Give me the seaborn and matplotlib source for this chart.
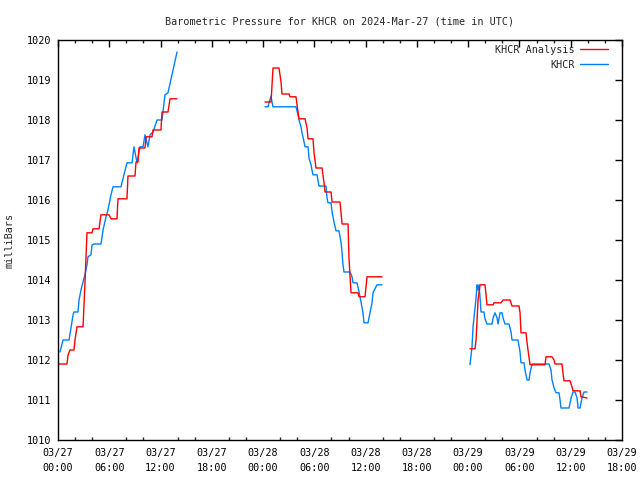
import numpy as np
import pandas as pd
import seaborn as sns
import matplotlib
matplotlib.use("Agg")
import matplotlib.pyplot as plt
import matplotlib.dates as mdates
from matplotlib.lines import Line2D

# ---- data: hours since 2024-03-27 00:00 UTC, pressure in mb ----
red_h1 = [0.0, 1.05, 1.17, 1.40, 1.87, 1.99, 2.22, 2.93, 3.16, 3.39, 3.98, 4.10, 4.80, 5.03,
          5.97, 6.20, 6.90, 7.02, 8.07, 8.19, 9.01, 9.13, 9.36, 9.48, 10.18, 10.30, 11.0,
          11.12, 12.05, 12.17, 12.87, 13.11, 13.93]
red_p1 = [1011.9, 1011.9, 1012.12, 1012.25, 1012.25, 1012.5, 1012.83, 1012.83, 1013.95, 1015.18,
          1015.18, 1015.28, 1015.28, 1015.63, 1015.63, 1015.53, 1015.53, 1016.03, 1016.03, 1016.6,
          1016.6, 1016.95, 1016.95, 1017.3, 1017.3, 1017.58, 1017.58, 1017.75, 1017.75, 1018.2,
          1018.2, 1018.53, 1018.53]
red_h2 = [24.22, 24.93, 25.16, 25.86, 26.10, 26.21, 27.03, 27.15, 27.85, 28.09, 28.20, 28.91,
          29.14, 29.26, 29.84, 29.96, 30.19, 30.90, 31.13, 31.25, 31.95, 32.07, 33.0, 33.12,
          33.24, 33.94, 34.05, 34.29, 35.11, 35.23, 35.93, 36.16, 37.92]
red_p2 = [1018.45, 1018.45, 1019.3, 1019.3, 1018.95, 1018.65, 1018.65, 1018.58, 1018.58, 1018.2,
          1018.03, 1018.03, 1017.8, 1017.53, 1017.53, 1017.18, 1016.8, 1016.8, 1016.43, 1016.2,
          1016.2, 1015.95, 1015.95, 1015.68, 1015.4, 1015.4, 1014.55, 1013.68, 1013.68, 1013.58,
          1013.58, 1014.08, 1014.08]
red_h3 = [48.21, 48.80, 48.92, 49.04, 49.15, 49.39, 49.97, 50.09, 50.20, 50.91, 51.02, 51.84,
          52.08, 52.90, 53.01, 53.13, 53.95, 54.07, 54.18, 54.77, 54.89, 55.0, 55.24, 56.99,
          57.11, 57.81, 58.05, 58.16, 58.98, 59.09, 59.21, 59.92, 60.15, 60.27, 61.09, 61.21, 61.91]
red_p3 = [1012.28, 1012.28, 1012.5, 1013.0, 1013.5, 1013.88, 1013.88, 1013.63, 1013.38, 1013.38,
          1013.43, 1013.43, 1013.5, 1013.5, 1013.43, 1013.35, 1013.35, 1013.18, 1012.68, 1012.68,
          1012.43, 1012.25, 1011.88, 1011.88, 1012.08, 1012.08, 1012.0, 1011.9, 1011.9, 1011.68,
          1011.48, 1011.48, 1011.33, 1011.23, 1011.23, 1011.08, 1011.05]

blue_h1 = [0.23, 0.59, 1.29, 1.52, 1.76, 1.87, 2.34, 2.46, 2.69, 2.93, 3.16, 3.39, 3.51, 3.86,
           3.98, 4.21, 5.03, 5.27, 5.62, 5.85, 6.20, 6.44, 7.37, 7.72, 8.07, 8.66, 8.89, 9.25,
           9.60, 9.95, 10.18, 10.53, 10.77, 11.12, 11.59, 12.17, 12.52, 12.87, 13.93]
blue_p1 = [1012.2, 1012.5, 1012.5, 1012.8, 1013.13, 1013.2, 1013.2, 1013.5, 1013.75, 1013.95,
           1014.13, 1014.38, 1014.58, 1014.63, 1014.88, 1014.9, 1014.9, 1015.25, 1015.58, 1015.75,
           1016.13, 1016.33, 1016.33, 1016.63, 1016.93, 1016.93, 1017.33, 1016.93, 1017.33,
           1017.33, 1017.63, 1017.33, 1017.63, 1017.7, 1018.0, 1018.0, 1018.63, 1018.68, 1019.7]
blue_h2 = [24.22, 24.58, 24.69, 24.93, 25.04, 25.16, 27.85, 28.09, 28.20, 28.44, 28.55, 28.67,
           28.91, 29.26, 29.37, 29.61, 29.72, 29.84, 30.31, 30.54, 31.36, 31.48, 31.60, 31.95,
           32.07, 32.30, 32.53, 32.88, 33.12, 33.24, 33.35, 33.47, 34.17, 34.41, 34.52, 34.99,
           35.23, 35.46, 35.69, 35.81, 36.28, 36.51, 36.75, 36.86, 37.21, 37.33, 37.92]
blue_p2 = [1018.33, 1018.33, 1018.43, 1018.6, 1018.45, 1018.33, 1018.33, 1018.13, 1018.0, 1017.83,
           1017.68, 1017.58, 1017.33, 1017.33, 1017.05, 1016.88, 1016.75, 1016.63, 1016.63,
           1016.35, 1016.35, 1016.05, 1015.93, 1015.93, 1015.7, 1015.45, 1015.23, 1015.23,
           1014.95, 1014.68, 1014.38, 1014.2, 1014.2, 1014.08, 1013.93, 1013.93, 1013.7, 1013.45,
           1013.18, 1012.93, 1012.93, 1013.18, 1013.43, 1013.68, 1013.83, 1013.88, 1013.88]
blue_h3 = [48.21, 48.45, 48.57, 48.80, 48.92, 49.04, 49.15, 49.27, 49.39, 49.50, 49.85, 49.97,
           50.20, 50.79, 50.91, 51.14, 51.38, 51.49, 51.73, 51.96, 52.08, 52.31, 52.78, 53.01,
           53.13, 53.83, 54.07, 54.18, 54.53, 54.65, 54.89, 55.12, 55.24, 55.47, 57.46, 57.69,
           57.81, 58.05, 58.28, 58.63, 58.75, 58.86, 59.80, 60.04, 60.27, 60.50, 60.74, 60.86,
           61.09, 61.32, 61.56, 61.91]
blue_p3 = [1011.88, 1012.33, 1012.83, 1013.3, 1013.55, 1013.88, 1013.75, 1013.88, 1013.55, 1013.2,
           1013.2, 1013.03, 1012.9, 1012.9, 1013.05, 1013.18, 1013.05, 1012.9, 1013.18, 1013.18,
           1013.05, 1012.9, 1012.9, 1012.7, 1012.5, 1012.5, 1012.2, 1011.93, 1011.93, 1011.75,
           1011.5, 1011.5, 1011.68, 1011.9, 1011.9, 1011.75, 1011.5, 1011.3, 1011.18, 1011.18,
           1011.0, 1010.8, 1010.8, 1011.05, 1011.2, 1011.2, 1011.05, 1010.8, 1010.8, 1011.05,
           1011.2, 1011.2]

series_names = ["KHCR Analysis", "KHCR"]
series_colors = {"KHCR Analysis": "#ff0000", "KHCR": "#0080ff"}
x_ticklabels_fmt = "%m/%d\n%H:%M"
title = "Barometric Pressure for KHCR on 2024-Mar-27 (time in UTC)"
ylabel = "milliBars"

start = pd.Timestamp("2024-03-27 00:00")
frames = []
for name, parts in [("KHCR Analysis", [(red_h1, red_p1), (red_h2, red_p2), (red_h3, red_p3)]),
                    ("KHCR", [(blue_h1, blue_p1), (blue_h2, blue_p2), (blue_h3, blue_p3)])]:
    for i, (h, p) in enumerate(parts):
        frames.append(pd.DataFrame({
            "time": start + pd.to_timedelta(np.array(h), unit="h"),
            "pressure": p,
            "series": name,
            "segment": f"{name}-{i}",
        }))
df = pd.concat(frames, ignore_index=True)

sns.set_theme(style="white")
plt.rcParams["font.family"] = ["DejaVu Sans Mono"]
FS = 7.3

fig = plt.figure(figsize=(6.4, 4.8), dpi=100)
ax = fig.add_axes([58 / 640, 40 / 480, 564 / 640, 400 / 480])

# draw blue first so red is on top where they overlap
for name in ["KHCR", "KHCR Analysis"]:
    sub = df[df["series"] == name]
    sns.lineplot(data=sub, x="time", y="pressure", units="segment", estimator=None,
                 sort=False, color=series_colors[name], lw=1.0, ax=ax, legend=False)

ax.set_xlim(start, start + pd.Timedelta(hours=66))
ax.set_ylim(1010, 1020)
ax.xaxis.set_major_locator(mdates.HourLocator(byhour=[0, 6, 12, 18]))
ax.xaxis.set_minor_locator(mdates.HourLocator(byhour=list(range(0, 24, 2))))
ax.xaxis.set_major_formatter(mdates.DateFormatter(x_ticklabels_fmt))
ax.set_yticks(np.arange(1010, 1021, 1))
ax.set_yticklabels([f"{v:d}" for v in range(1010, 1021)])

ax.tick_params(axis="both", which="major", direction="in", length=5, width=1,
               top=True, right=True, labelsize=FS, colors="black", pad=5)
ax.tick_params(axis="x", which="minor", direction="in", length=2.5, width=1,
               top=True, bottom=True)
ax.tick_params(axis="x", which="major", pad=6)
for lbl in ax.get_xticklabels():
    lbl.set_horizontalalignment("center")
    lbl.set_linespacing(1.6)
for s in ax.spines.values():
    s.set_color("black")
    s.set_linewidth(1.0)

ax.set_xlabel("")
ax.set_ylabel(ylabel, fontsize=FS, labelpad=9)
ax.set_title(title, fontsize=FS, pad=11.5)
ax.grid(False)

handles = [Line2D([], [], color=series_colors[n], lw=1.0) for n in series_names]
leg = ax.legend(handles, series_names, loc="upper right", frameon=False, fontsize=FS,
                markerfirst=False, handlelength=2.8, handletextpad=0.45,
                bbox_to_anchor=(610 / 640, 1 - 43 / 480), bbox_transform=fig.transFigure,
                borderaxespad=0.0, borderpad=0.2, labelspacing=0.45)
for t in leg.get_texts():
    t.set_horizontalalignment("right")

fig.savefig("out.png", dpi=100)
